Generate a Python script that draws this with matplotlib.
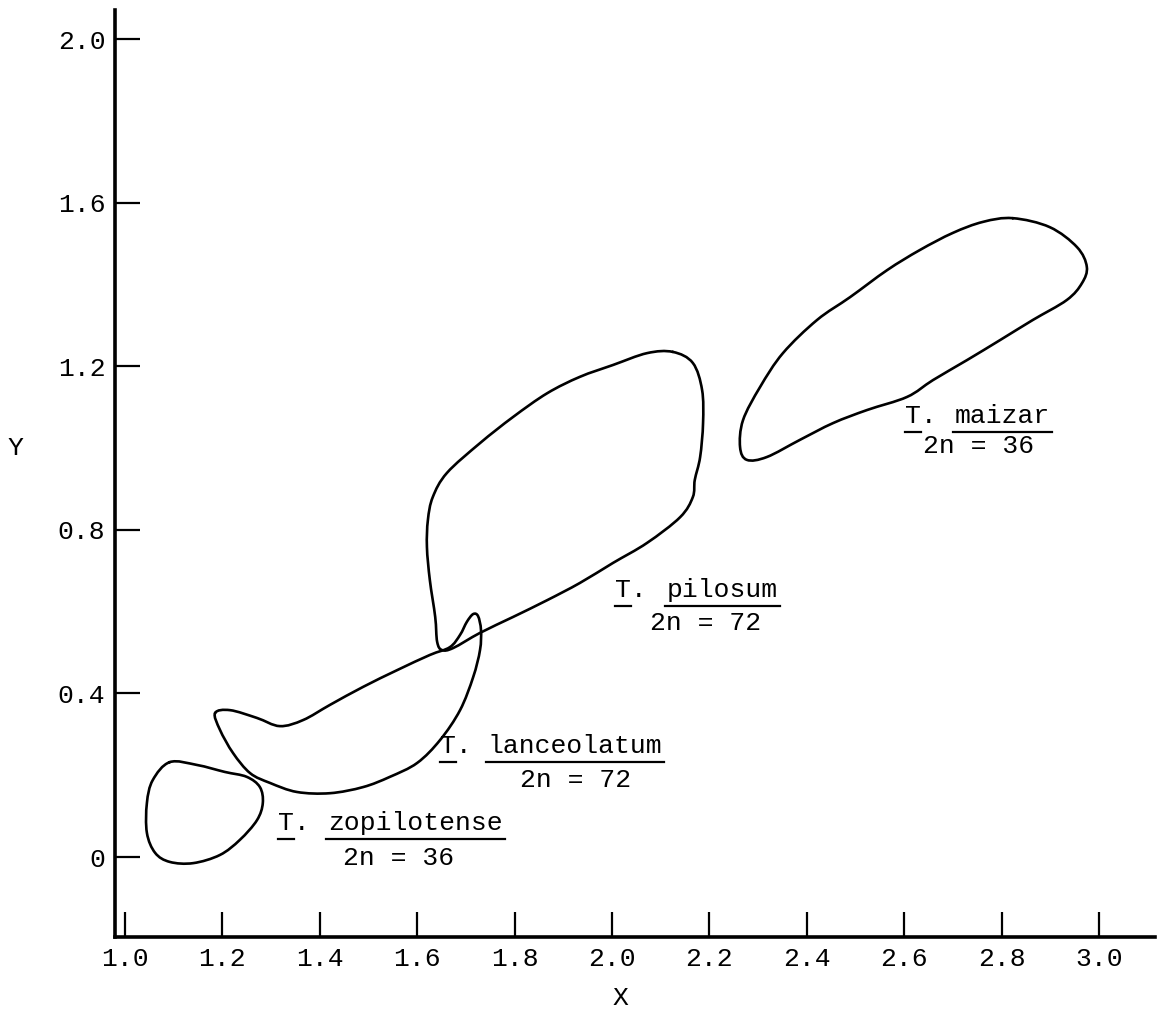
import numpy as np
import matplotlib
matplotlib.use("Agg")
import matplotlib.pyplot as plt
from matplotlib.path import Path
from matplotlib.patches import PathPatch
from matplotlib.lines import Line2D

# ---------------- data ----------------
zopilotense_x = [1.092, 1.148, 1.205, 1.250, 1.277, 1.283, 1.271, 1.236, 1.195,
                 1.140, 1.092, 1.062, 1.045, 1.045, 1.057]
zopilotense_y = [0.232, 0.225, 0.208, 0.196, 0.171, 0.132, 0.090, 0.042, 0.005,
                 -0.015, -0.012, 0.010, 0.059, 0.132, 0.188]

lanceolatum_x = [1.185, 1.216, 1.271, 1.318, 1.366, 1.421, 1.489, 1.559, 1.626,
                 1.667, 1.688, 1.702, 1.715, 1.725, 1.731, 1.729, 1.715, 1.688,
                 1.647, 1.600, 1.544, 1.489, 1.421, 1.353, 1.298, 1.257, 1.222,
                 1.195]
lanceolatum_y = [0.352, 0.359, 0.340, 0.320, 0.335, 0.372, 0.416, 0.457, 0.494,
                 0.513, 0.543, 0.575, 0.594, 0.589, 0.555, 0.506, 0.440, 0.359,
                 0.286, 0.230, 0.196, 0.171, 0.156, 0.159, 0.181, 0.205, 0.254,
                 0.311]

pilosum_x = [2.125, 2.166, 2.185, 2.187, 2.181, 2.170, 2.166, 2.140, 2.072,
             2.002, 1.934, 1.867, 1.797, 1.729, 1.674, 1.651, 1.641, 1.637,
             1.626, 1.620, 1.622, 1.632, 1.661, 1.729, 1.797, 1.867, 1.934,
             2.002, 2.072]
pilosum_y = [1.235, 1.208, 1.142, 1.061, 0.978, 0.922, 0.880, 0.831, 0.768,
             0.719, 0.670, 0.628, 0.587, 0.548, 0.511, 0.506, 0.526, 0.587,
             0.677, 0.758, 0.824, 0.880, 0.939, 1.012, 1.076, 1.134, 1.174,
             1.203, 1.232]

maizar_x = [2.823, 2.899, 2.955, 2.975, 2.965, 2.934, 2.864, 2.797, 2.729,
            2.659, 2.606, 2.524, 2.454, 2.386, 2.318, 2.277, 2.263, 2.269,
            2.304, 2.351, 2.421, 2.489, 2.565, 2.632, 2.700, 2.762]
maizar_y = [1.562, 1.540, 1.491, 1.443, 1.403, 1.362, 1.313, 1.264, 1.215,
            1.166, 1.125, 1.093, 1.061, 1.020, 0.978, 0.971, 1.002, 1.068,
            1.149, 1.232, 1.313, 1.369, 1.435, 1.484, 1.526, 1.553]

species = ["zopilotense", "lanceolatum", "pilosum", "maizar"]
chromosomes = ["2n = 36", "2n = 72", "2n = 72", "2n = 36"]

x_ticks = [1.0, 1.2, 1.4, 1.6, 1.8, 2.0, 2.2, 2.4, 2.6, 2.8, 3.0]
x_tick_labels = ["1.0", "1.2", "1.4", "1.6", "1.8", "2.0", "2.2", "2.4",
                 "2.6", "2.8", "3.0"]
y_ticks = [0.0, 0.4, 0.8, 1.2, 1.6, 2.0]
y_tick_labels = ["0", "0.4", "0.8", "1.2", "1.6", "2.0"]

# ---------------- layout ----------------
# label anchors: (T. x, species x, 2n x, species baseline, 2n baseline)
label_layout = [
    (1.314, 1.417, 1.448, 0.066, -0.020),
    (1.647, 1.745, 1.811, 0.254, 0.171),
    (2.006, 2.113, 2.078, 0.636, 0.555),
    (2.602, 2.704, 2.639, 1.061, 0.988),
]

FONT = ["Liberation Mono", "DejaVu Sans Mono"]
plt.rcParams["font.family"] = FONT

W, H = 1158, 1015
fig = plt.figure(figsize=(W / 100, H / 100), dpi=100)
fig.patch.set_facecolor("white")
ax = fig.add_axes([115 / W, 1 - 937 / H, (1155 - 115) / W, (937 - 10) / H])
ax.set_facecolor("white")
ax.set_xlim(0.9795, 3.115)
ax.set_ylim(-0.1956, 2.071)

for s in ("top", "right"):
    ax.spines[s].set_visible(False)
for s in ("left", "bottom"):
    ax.spines[s].set_linewidth(2.6)
    ax.spines[s].set_color("black")

ax.set_xticks(x_ticks)
ax.set_xticklabels(x_tick_labels)
ax.set_yticks(y_ticks)
ax.set_yticklabels(y_tick_labels)
ax.tick_params(axis="both", direction="in", length=18, width=1.6,
               colors="black", labelsize=19)
ax.tick_params(axis="x", pad=7)
ax.tick_params(axis="y", pad=7)

ax.set_xlabel("X", fontsize=19, va="center")
ax.xaxis.set_label_coords((620 - 115) / 1040, (937 - 998) / 927)
ax.set_ylabel("Y", fontsize=19, rotation=0, va="center", ha="center")
ax.yaxis.set_label_coords((15 - 115) / 1040, (937 - 448) / 927)


def closed_smooth_path(xs, ys):
    P = np.column_stack([xs, ys])
    n = len(P)
    verts = [P[0]]
    codes = [Path.MOVETO]
    for i in range(n):
        p0, p1, p2, p3 = P[i - 1], P[i], P[(i + 1) % n], P[(i + 2) % n]
        c1 = p1 + (p2 - p0) / 6.0
        c2 = p2 - (p3 - p1) / 6.0
        verts += [c1, c2, p2]
        codes += [Path.CURVE4] * 3
    return Path(verts, codes)


for xs, ys in [(zopilotense_x, zopilotense_y), (lanceolatum_x, lanceolatum_y),
               (pilosum_x, pilosum_y), (maizar_x, maizar_y)]:
    ax.add_patch(PathPatch(closed_smooth_path(xs, ys), facecolor="none",
                           edgecolor="black", lw=1.9, capstyle="round",
                           joinstyle="round"))

texts = []
for name, chrom, (tx, sx, cx, sy, cy) in zip(species, chromosomes, label_layout):
    t1 = ax.text(tx, sy, "T.", fontsize=19, va="baseline", ha="left")
    t2 = ax.text(sx, sy, name, fontsize=19, va="baseline", ha="left")
    ax.text(cx, cy, chrom, fontsize=19, va="baseline", ha="left")
    texts.append((t1, t2, sy))

fig.canvas.draw()
renderer = fig.canvas.get_renderer()
for t1, t2, sy in texts:
    base = ax.transData.transform((0, sy))[1]
    b1 = t1.get_window_extent(renderer)
    b2 = t2.get_window_extent(renderer)
    uy = base - 9
    fig.add_artist(Line2D([b1.x0, b1.x0 + b1.width / 2], [uy, uy],
                          transform=None, color="black", lw=1.6))
    fig.add_artist(Line2D([b2.x0 - 2, b2.x1 + 2], [uy, uy],
                          transform=None, color="black", lw=1.6))

fig.savefig("out.png", dpi=100, facecolor="white")
